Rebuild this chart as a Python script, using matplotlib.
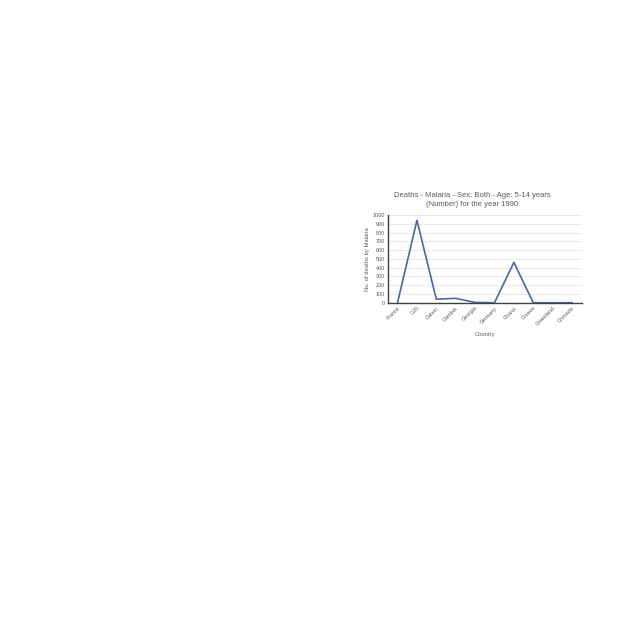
import matplotlib
matplotlib.use('Agg')
import matplotlib.pyplot as plt

countries = ['France', 'G20', 'Gabon', 'Gambia', 'Georgia', 'Germany', 'Ghana', 'Greece', 'Greenland', 'Grenada']
deaths = [0, 940, 40, 50, 3, 0, 460, 0, 0, 0]
y_ticks = [0, 100, 200, 300, 400, 500, 600, 700, 800, 900, 1000]

plt.rcParams['font.family'] = ['Liberation Sans', 'DejaVu Sans']

fig = plt.figure(figsize=(6.4, 6.4), dpi=100)
ax = fig.add_axes([0.606, 0.527, 0.303, 0.137])

x = list(range(len(countries)))
ax.plot(x, deaths, color='#4169AC', linewidth=1.2)

ax.set_xlim(-0.5, len(countries) - 0.5)
ax.set_ylim(0, 1000)
ax.set_yticks(y_ticks)
ax.set_yticklabels([str(v) for v in y_ticks], fontsize=3.9, color='#595959')
ax.set_xticks(x)
ax.set_xticklabels(countries, fontsize=3.8, color='#595959', rotation=45, ha='right', rotation_mode='anchor')
ax.tick_params(axis='both', length=0, pad=2)

ax.grid(axis='y', color='#E0E0E0', linewidth=0.5)
ax.set_axisbelow(True)
for side in ['top', 'right']:
    ax.spines[side].set_visible(False)
ax.spines['left'].set_color('#404040')
ax.spines['bottom'].set_color('#404040')
ax.spines['left'].set_linewidth(1.0)
ax.spines['bottom'].set_linewidth(1.0)

# el titulo va centrado sobre todo el grafico, no solo sobre el eje
ax.set_title('Deaths - Malaria - Sex: Both - Age: 5-14 years\n(Number) for the year 1990',
             fontsize=5.5, color='#595959', pad=6.5, linespacing=1.45, x=0.435)
ax.set_xlabel('Country', fontsize=4.2, color='#595959', labelpad=4)
ax.set_ylabel('No. of deaths by Malaria', fontsize=4.2, color='#595959', labelpad=2)

fig.savefig('out.png', dpi=100)
